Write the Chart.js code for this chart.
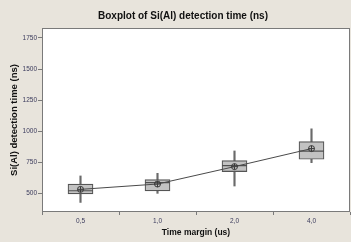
<!DOCTYPE html>
<html>
<head>
<meta charset="utf-8">
<script src="https://cdn.jsdelivr.net/npm/chart.js@4.4.1/dist/chart.umd.min.js"></script>
<style>
  html, body { margin: 0; padding: 0; background: #e8e4dc; }
  #wrap { width: 351px; height: 242px; }
</style>
</head>
<body>
<div id="wrap"><canvas id="grafico" width="351" height="242"></canvas></div>
<script>
const categorias = ["0,5", "1,0", "2,0", "4,0"];
const bigodeMin = [427, 500, 559, 747];
const quartil1 = [495, 519, 675, 774];
const mediana = [521, 586, 723, 839];
const quartil3 = [575, 610, 763, 917];
const bigodeMax = [640, 661, 841, 1019];
const media = [532, 575, 715, 860];
const ticksY = [500, 750, 1000, 1250, 1500, 1750];

const corTexto = "#3a3a5c";
const fonte = "'Liberation Sans', Arial, sans-serif";

// fundo branco e moldura da area do grafico
const moldura = {
  id: "moldura",
  beforeDraw(chart) {
    const { ctx, chartArea: a } = chart;
    ctx.save();
    ctx.fillStyle = "#e8e4dc";
    ctx.fillRect(0, 0, chart.width, chart.height);
    ctx.fillStyle = "#ffffff";
    ctx.fillRect(a.left, a.top, a.right - a.left, a.bottom - a.top);
    ctx.restore();
  },
  afterDraw(chart) {
    const { ctx, chartArea: a } = chart;
    ctx.save();
    ctx.strokeStyle = "#7a7a7a";
    ctx.lineWidth = 1;
    ctx.strokeRect(a.left + 0.5, a.top + 0.5, a.right - a.left - 1, a.bottom - a.top - 1);
    ctx.restore();
  }
};

new Chart(document.getElementById("grafico"), {
  type: "bar",
  data: {
    labels: categorias,
    datasets: [
      {
        type: "line",
        data: media,
        borderColor: "#4a4a4a",
        borderWidth: 1,
        pointStyle: "circle",
        pointRadius: 3,
        pointBorderColor: "#3a3a3a",
        pointBackgroundColor: "rgba(0,0,0,0)",
        pointBorderWidth: 1,
        order: 0
      },
      {
        type: "line",
        data: media,
        showLine: false,
        pointStyle: "cross",
        pointRadius: 3,
        pointBorderColor: "#3a3a3a",
        pointBorderWidth: 1,
        order: 0
      },
      {
        type: "line",
        data: mediana,
        showLine: false,
        pointStyle: "line",
        pointRadius: 12.5,
        pointBorderColor: "#505050",
        pointBorderWidth: 1.2,
        order: 1
      },
      {
        data: categorias.map((_, i) => [quartil1[i], quartil3[i]]),
        backgroundColor: "#c2c2c2",
        borderColor: "#555555",
        borderWidth: 1.2,
        borderSkipped: false,
        barThickness: 25,
        grouped: false,
        order: 2
      },
      {
        data: categorias.map((_, i) => [bigodeMin[i], bigodeMax[i]]),
        backgroundColor: "#6a6a6a",
        borderWidth: 0,
        barThickness: 1.5,
        grouped: false,
        order: 3
      }
    ]
  },
  options: {
    responsive: false,
    animation: false,
    layout: { autoPadding: false, padding: { top: 0, right: 1, bottom: 0, left: 16 } },
    plugins: {
      legend: { display: false },
      tooltip: { enabled: false },
      title: {
        display: true,
        text: "Boxplot of Si(Al) detection time (ns)",
        color: "#111111",
        font: { family: fonte, size: 10, weight: "bold" },
        padding: { top: 10, bottom: 6 }
      }
    },
    scales: {
      x: {
        offset: true,
        afterFit(scale) { scale.height = 30; },
        grid: { display: true, drawOnChartArea: false, tickLength: 3, color: "#7a7a7a" },
        border: { display: false },
        ticks: { color: corTexto, padding: 2, font: { family: fonte, size: 6.5 } },
        title: {
          display: true,
          text: "Time margin (us)",
          color: "#111111",
          font: { family: fonte, size: 8.5, weight: "bold" },
          padding: { top: 0, bottom: 4 }
        }
      },
      y: {
        min: 350,
        max: 1830,
        afterFit(scale) { scale.width = 26; },
        afterBuildTicks(scale) { scale.ticks = ticksY.map((v) => ({ value: v })); },
        grid: { display: true, drawOnChartArea: false, tickLength: 4, color: "#7a7a7a" },
        border: { display: false },
        ticks: {
          color: corTexto,
          padding: 1,
          font: { family: fonte, size: 6.5 },
          callback: (valor) => String(valor)
        },
        title: {
          display: true,
          text: "Si(Al) detection time (ns)",
          color: "#111111",
          font: { family: fonte, size: 9.5, weight: "bold" },
          padding: { top: -7, bottom: 0 }
        }
      }
    }
  },
  plugins: [moldura]
});
</script>
</body>
</html>
